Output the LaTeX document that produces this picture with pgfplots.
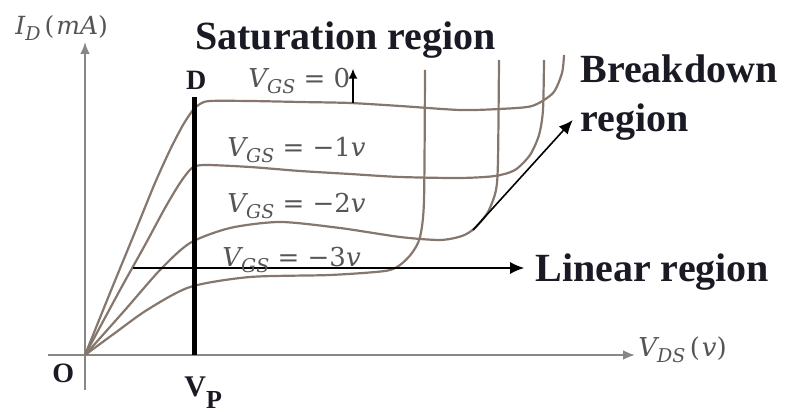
\documentclass[border=0pt]{standalone}
\usepackage{pgfplots}
\pgfplotsset{compat=1.18}
\usepackage{fontspec}
\setmainfont{Liberation Serif}
\newfontfamily\mathlike{DejaVu Serif}
\usetikzlibrary{arrows.meta}

\definecolor{curve}{HTML}{85776E}
\definecolor{axisgray}{HTML}{878787}
\definecolor{labelgray}{HTML}{555555}
\definecolor{ink}{HTML}{1A1A24}

% italic symbol with a lowered italic subscript
\newcommand{\sym}[2]{{\itshape #1}\raisebox{-2.6pt}{\fontsize{9.5}{10}\selectfont\itshape #2}}

\begin{document}
\begin{tikzpicture}
\begin{axis}[
  width=393.5pt, height=206pt, scale only axis,
  xmin=-2.3611, xmax=19.5, ymin=-2.28, ymax=14.2,
  hide axis, clip=false,
]
\path (rel axis cs:0,0) rectangle (rel axis cs:1,1);

% coordinate axes
\draw[axisgray, line width=1.4pt, -{Latex[length=6pt,width=5pt]}]
  (axis cs:-1.028,0) -- (axis cs:15.278,0);
\draw[axisgray, line width=1.4pt, -{Latex[length=6pt,width=5pt]}]
  (axis cs:0,-1.4) -- (axis cs:0,12.52);

% drain characteristics, I_D against V_DS
\addplot[curve, line width=1.1pt, smooth, tension=0.45] coordinates {
  (0,0) (0.694,2.48) (1.389,4.92) (1.944,6.88) (2.361,8.2) (2.722,9.2)
  (3.0,9.8) (3.194,10.04) (3.472,10.16) (4.583,10.16) (5.972,10.12)
  (7.361,10.08) (8.75,9.96) (10.417,9.8) (11.5,9.84) (12.417,9.96)
  (13.0,10.48) (13.25,11.28) (13.306,12.0)};
\addplot[curve, line width=1.1pt, smooth, tension=0.45] coordinates {
  (0,0) (0.972,2.6) (1.667,4.4) (2.222,5.88) (2.639,6.88) (2.972,7.48)
  (3.333,7.6) (4.583,7.52) (5.972,7.36) (7.361,7.24) (8.75,7.12)
  (10.417,7.08) (11.389,7.16) (11.944,7.4) (12.361,8.0) (12.611,8.8)
  (12.722,9.8) (12.75,11.8)};
\addplot[curve, line width=1.1pt, smooth, tension=0.45] coordinates {
  (0,0) (1.111,1.8) (2.083,3.4) (2.917,4.48) (4.028,5.08) (5.417,5.32)
  (7.083,5.08) (8.75,4.72) (9.861,4.6) (10.472,4.76) (10.833,5.08)
  (11.194,5.72) (11.417,6.6) (11.472,7.8) (11.5,11.8)};
\addplot[curve, line width=1.1pt, smooth, tension=0.45] coordinates {
  (0,0) (0.833,0.88) (1.722,1.8) (2.917,2.72) (4.583,3.12) (6.806,3.2)
  (8.333,3.36) (8.75,3.6) (9.083,4.08) (9.306,4.72) (9.417,6.2)
  (9.444,11.4)};

% pinch-off line
\draw[black, line width=2.5pt] (axis cs:3.03,0) -- (axis cs:3.03,10.3);

% region pointers
\draw[black, line width=0.8pt, -{Latex[length=7pt,width=6pt]}]
  (axis cs:1.333,3.48) -- (axis cs:12.2,3.48);
\draw[black, line width=0.8pt, -{Latex[length=7pt,width=6pt]}]
  (axis cs:10.778,5.0) -- (axis cs:13.55,9.4);
\draw[black, line width=0.8pt, -{Latex[length=5pt,width=4.5pt]}]
  (axis cs:7.444,10.08) -- (axis cs:7.444,11.45);

% axis labels
\node[anchor=base west, inner sep=0pt, text=labelgray,
      font=\mathlike\fontsize{12.5}{13}\selectfont]
  at (axis cs:-1.944,12.8) {\sym{I}{D}\,(\kern1pt{\itshape mA})};
\node[anchor=base west, inner sep=0pt, text=labelgray,
      font=\mathlike\fontsize{13}{14}\selectfont]
  at (axis cs:15.361,-0.08) {\sym{V}{DS}\,(\kern1pt{\itshape v})};

% gate-source voltage of each curve
\begin{scope}[every node/.style={anchor=base west, inner sep=0pt, text=labelgray,
      font=\mathlike\fontsize{13}{14}\selectfont}]
\node at (axis cs:4.528,10.68) {\sym{V}{GS} = 0};
\node at (axis cs:3.944,7.92) {\sym{V}{GS} = −1{\itshape v}};
\node at (axis cs:3.944,5.68) {\sym{V}{GS} = −2{\itshape v}};
\node at (axis cs:3.806,3.52) {\sym{V}{GS} = −3{\itshape v}};
\end{scope}

% point and region names
\begin{scope}[every node/.style={anchor=base west, inner sep=0pt, text=ink}]
\node[font=\bfseries\fontsize{20}{22}\selectfont] at (axis cs:3.056,12.2) {Saturation region};
\node[font=\bfseries\fontsize{20}{22}\selectfont] at (axis cs:13.75,10.88) {Breakdown};
\node[font=\bfseries\fontsize{20}{22}\selectfont] at (axis cs:13.75,8.92) {region};
\node[font=\bfseries\fontsize{20}{22}\selectfont] at (axis cs:12.5,2.92) {Linear region};
\node[font=\bfseries\fontsize{14}{15}\selectfont] at (axis cs:2.80,10.6) {D};
\node[font=\bfseries\fontsize{14}{15}\selectfont] at (axis cs:-0.917,-1.12) {O};
\node[font=\bfseries\fontsize{15}{16}\selectfont] at (axis cs:2.75,-1.68)
  {V\raisebox{-6pt}{\fontsize{13}{14}\selectfont\bfseries P}};
\end{scope}
\end{axis}
\end{tikzpicture}
\end{document}
